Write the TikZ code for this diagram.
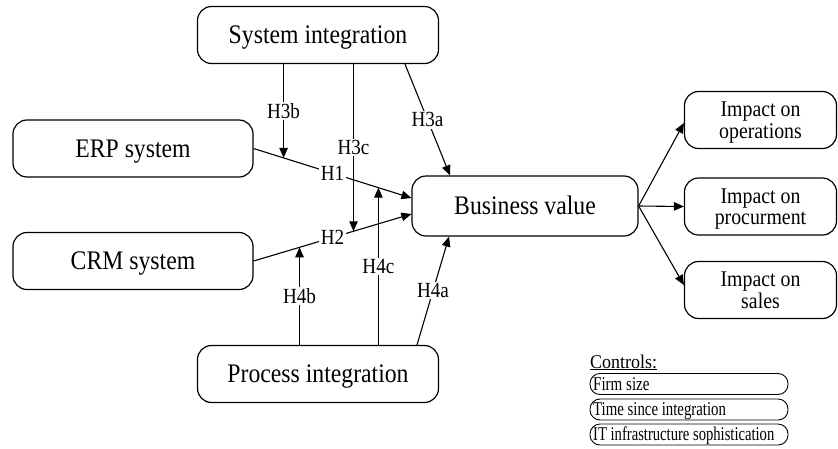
\documentclass[tikz,border=0pt]{standalone}
\usepackage{fontspec}
\setmainfont[FakeStretch=0.885]{Liberation Serif}
\newfontfamily\ctlfont{Liberation Serif}
\usetikzlibrary{arrows.meta}
\begin{document}
\begin{tikzpicture}[x=1pt,y=-1pt,
  box/.style={draw, line width=1.2pt, rounded corners=14pt, minimum width=240pt,
    minimum height=57pt, inner sep=0pt, align=center,
    font=\fontsize{26.8}{29}\selectfont, text height=17.7pt, text depth=0pt},
  outbox/.style={box, minimum width=152pt, font=\fontsize{22.4}{21.5}\selectfont,
    text height=36.3pt, text depth=0pt},
  link/.style={line width=1.1pt, -{Triangle[length=10pt,width=8.5pt]}},
  hyp/.style={fill=white, inner sep=1.5pt, font=\fontsize{21.6}{23}\selectfont},
  pill/.style={draw, line width=0.9pt, rounded corners=10pt, minimum height=21pt,
    minimum width=198pt, inner sep=0pt},
  ctext/.style={inner sep=0pt, anchor=base west, font=\ctlfont\fontsize{19.5}{21}\selectfont}
]
\useasboundingbox (0,0) rectangle (838,448);

% constructs
\node[box, minimum width=241pt] (sys)  at (318,35)    {System integration};
\node[box] (erp)  at (133,148.5) {ERP system};
\node[box] (crm)  at (133,261)   {CRM system};
\node[box, minimum width=241pt] (proc) at (318,374)   {Process integration};
\node[box, minimum width=226pt, minimum height=60pt] (bv) at (525,206) {Business value};

% outcomes
\node[outbox] (ops)  at (760.5,120)   {Impact on\\operations};
\node[outbox] (pur)  at (760.5,206.5) {Impact on\\procurment};
\node[outbox] (sal)  at (760.5,290)   {Impact on\\sales};

% direct effects
\draw[link] (erp.east) -- node[hyp] {H1}
  coordinate[pos=0.19] (m3b) coordinate[pos=0.791] (m4c)
  ([yshift=8pt]bv.west);
\draw[link] (crm.east) -- node[hyp] {H2}
  coordinate[pos=0.291] (m4b) coordinate[pos=0.633] (m3c)
  ([yshift=-8pt]bv.west);

% system integration
\draw[link] ([xshift=87pt]sys.south) -- node[hyp] {H3a} ([xshift=-75pt]bv.north);
\draw[link] (sys.south -| m3b) -- node[hyp] {H3b} (m3b);
\draw[link] (sys.south -| m3c) -- node[hyp] {H3c} (m3c);

% process integration
\draw[link] ([xshift=99pt]proc.north) -- node[hyp] {H4a} ([xshift=-76pt]bv.south);
\draw[link] (proc.north -| m4b) -- node[hyp] {H4b} (m4b);
\draw[link] (proc.north -| m4c) -- node[hyp] {H4c} (m4c);

% outcomes of business value
\draw[link] (bv.east) -- ([yshift=-3pt]ops.west);
\draw[link] (bv.east) -- (pur.west);
\draw[link] (bv.east) -- ([yshift=5pt]sal.west);

% control variables
\node[ctext] (ctl) at (590,368) {\underline{\scalebox{0.92}[1]{Controls:}}};
\node[pill] (c1) at (689,384)   {};
\node[pill] (c2) at (689,409.5) {};
\node[pill] (c3) at (689,434.5) {};
\node[ctext] (t1) at (593,390)   {\scalebox{0.77}[1]{Firm size}};
\node[ctext] (t2) at (593,415.5) {\scalebox{0.76}[1]{Time since integration}};
\node[ctext] (t3) at (593,440.5) {\scalebox{0.75}[1]{IT infrastructure sophistication}};
\end{tikzpicture}
\end{document}
